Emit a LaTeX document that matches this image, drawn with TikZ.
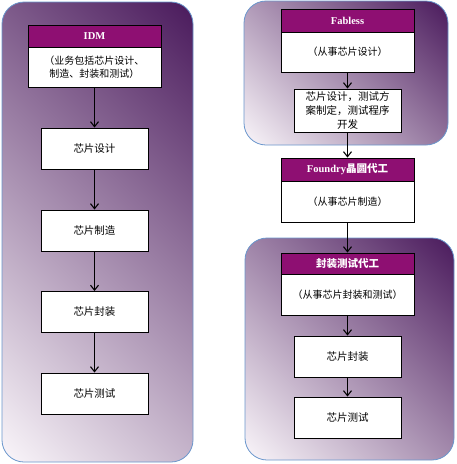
\documentclass[tikz,border=0pt]{standalone}
\usepackage{fontspec}
\setmainfont{Liberation Serif}
\newfontfamily\cjk{Noto Sans CJK SC}
\usetikzlibrary{arrows.meta}
\definecolor{dpurple}{HTML}{4A1A5C}
\definecolor{mpurple}{HTML}{A07AA4}
\definecolor{lpurple}{HTML}{FAF6FA}
\definecolor{hdr}{HTML}{8E0F72}
\definecolor{cborder}{HTML}{6A96CC}
\tikzset{
  grad/.style={top color=dpurple, middle color=mpurple, bottom color=lpurple, shading angle=-45},
  cframe/.style={draw=cborder, line width=0.8pt, rounded corners=22pt},
  hdrbox/.style={draw=black, line width=0.9pt, fill=hdr, text=white, font=\bfseries\fontsize{10.5}{12}\selectfont, minimum width=133pt, inner sep=0pt},
  bodybox/.style={draw=black, line width=0.9pt, fill=white, minimum width=133pt, align=center, font=\cjk\fontsize{10}{12.5}\selectfont, inner sep=0pt},
  stepbox/.style={draw=black, line width=0.9pt, fill=white, minimum width=107pt, minimum height=41pt, align=center, font=\cjk\fontsize{10.5}{14}\selectfont, inner sep=0pt},
  arr/.style={-{Straight Barb[length=5pt,width=8pt]}, line width=1.1pt, black}
}
\begin{document}
\begin{tikzpicture}[x=1pt,y=-1pt]
\useasboundingbox (0,0) rectangle (456,464);
% containers (geometric 45-degree gradient: square shading clipped to each frame)
\begin{scope}
  \clip[rounded corners=22pt] (2,2) rectangle (193,462);
  \shade[grad] (-132.7,1.8) rectangle (327.7,462.2);
\end{scope}
\path[cframe] (2,2) rectangle (193,462);
\begin{scope}
  \clip[rounded corners=22pt] (244,1) rectangle (448,145);
  \shade[grad] (222.95,-50.05) rectangle (469.05,196.05);
\end{scope}
\path[cframe] (244,1) rectangle (448,145);
\begin{scope}
  \clip[rounded corners=22pt] (245,238) rectangle (454,460);
  \shade[grad] (197.1,196.6) rectangle (501.9,501.4);
\end{scope}
\path[cframe] (245,238) rectangle (454,460);
% left column
\node[hdrbox, minimum height=22pt] (idmh) at (94.5,36) {IDM};
\node[bodybox, minimum height=40pt] (idmb) at (94.5,67) {（业务包括芯片设计、\\制造、封装和测试）};
\node[stepbox] (l1) at (94.5,148.5) {芯片设计};
\node[stepbox] (l2) at (94.5,230.5) {芯片制造};
\node[stepbox] (l3) at (94.5,312) {芯片封装};
\node[stepbox] (l4) at (94.5,393.5) {芯片测试};
\draw[arr] (idmb.south) -- (l1.north);
\draw[arr] (l1.south) -- (l2.north);
\draw[arr] (l2.south) -- (l3.north);
\draw[arr] (l3.south) -- (l4.north);
% right column
\node[hdrbox, minimum height=23pt] (fabh) at (347.5,20.5) {Fabless};
\node[bodybox, minimum height=40pt] (fabb) at (347.5,52) {（从事芯片设计）};
\node[stepbox, minimum height=43pt] (fabs) at (347.5,110.5) {芯片设计，测试方\\案制定，测试程序\\开发};
\node[hdrbox, minimum height=23pt] (fouh) at (347.5,169.5) {Foundry{\cjk 晶圆代工}};
\node[bodybox, minimum height=41pt] (foub) at (347.5,201.5) {（从事芯片制造）};
\node[hdrbox, minimum height=21pt] (pkgh) at (347.5,263.5) {\cjk 封装测试代工};
\node[bodybox, minimum height=41pt] (pkgb) at (347.5,294.5) {（从事芯片封装和测试）};
\node[stepbox] (r1) at (347.5,356.5) {芯片封装};
\node[stepbox] (r2) at (347.5,417.5) {芯片测试};
\draw[arr] (fabb.south) -- (fabs.north);
\draw[arr] (fabs.south) -- (fouh.north);
\draw[arr] (foub.south) -- (pkgh.north);
\draw[arr] (pkgb.south) -- (r1.north);
\draw[arr] (r1.south) -- (r2.north);
\end{tikzpicture}
\end{document}
